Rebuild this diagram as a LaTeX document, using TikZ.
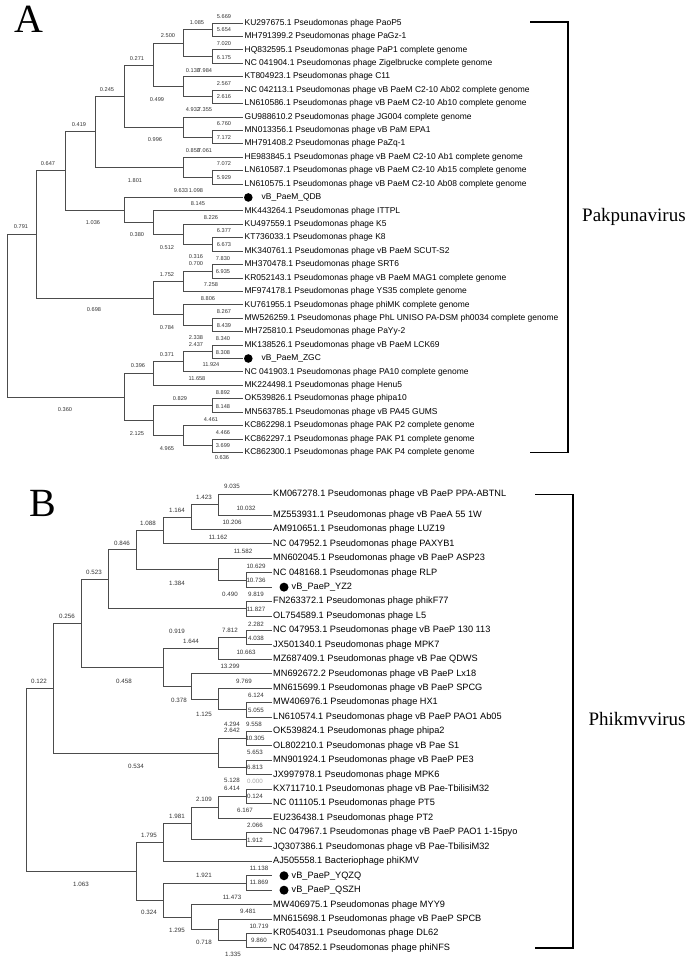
\documentclass[tikz,border=0pt]{standalone}
\usepackage{fontspec}
\setmainfont{Liberation Serif}
\newfontfamily\lsans{Liberation Sans}

\begin{document}
\begin{tikzpicture}[x=1pt, y=-1pt,
  branch/.style={line width=0.85pt, draw=black!70},
  leafa/.style={anchor=west, inner xsep=2pt, inner ysep=0pt, font=\lsans\fontsize{8.45}{9}\selectfont},
  leafb/.style={anchor=west, inner xsep=1.5pt, inner ysep=0pt, font=\lsans\fontsize{9.2}{10}\selectfont},
  bla/.style={inner sep=0pt, font=\lsans\fontsize{5.6}{6}\selectfont, text=black!80},
  blb/.style={inner sep=0pt, font=\lsans\fontsize{6.2}{7}\selectfont, text=black!80},
  dot/.style={circle, fill=black, inner sep=0pt, minimum size=8.6pt},
  bracket/.style={line width=1.3pt},
  clade/.style={anchor=base west, inner sep=0pt, font=\fontsize{19}{22}\selectfont},
  panel/.style={inner sep=0pt, font=\fontsize{40}{44}\selectfont}]
\useasboundingbox (0,0) rectangle (689,960);

% Panel A
\node[panel] (pa) at (29,19) {A};

% Leaves A
\foreach \t [count=\i] in {KU297675.1 Pseudomonas phage PaoP5,
  MH791399.2 Pseudomonas phage PaGz-1,
  HQ832595.1 Pseudomonas phage PaP1 complete genome,
  NC 041904.1 Pseudomonas phage Zigelbrucke complete genome,
  KT804923.1 Pseudomonas phage C11,
  NC 042113.1 Pseudomonas phage vB PaeM C2-10 Ab02 complete genome,
  LN610586.1 Pseudomonas phage vB PaeM C2-10 Ab10 complete genome,
  GU988610.2 Pseudomonas phage JG004 complete genome,
  MN013356.1 Pseudomonas phage vB PaM EPA1,
  MH791408.2 Pseudomonas phage PaZq-1,
  HE983845.1 Pseudomonas phage vB PaeM C2-10 Ab1 complete genome,
  LN610587.1 Pseudomonas phage vB PaeM C2-10 Ab15 complete genome,
  LN610575.1 Pseudomonas phage vB PaeM C2-10 Ab08 complete genome,
  \hspace{17pt}vB\_PaeM\_QDB,
  MK443264.1 Pseudomonas phage ITTPL,
  KU497559.1 Pseudomonas phage K5,
  KT736033.1 Pseudomonas phage K8,
  MK340761.1 Pseudomonas phage vB PaeM SCUT-S2,
  MH370478.1 Pseudomonas phage SRT6,
  KR052143.1 Pseudomonas phage vB PaeM MAG1 complete genome,
  MF974178.1 Pseudomonas phage YS35 complete genome,
  KU761955.1 Pseudomonas phage phiMK complete genome,
  MW526259.1 Pseudomonas phage PhL UNISO PA-DSM ph0034 complete genome,
  MH725810.1 Pseudomonas phage PaYy-2,
  MK138526.1 Pseudomonas phage vB PaeM LCK69,
  \hspace{17pt}vB\_PaeM\_ZGC,
  NC 041903.1 Pseudomonas phage PA10 complete genome,
  MK224498.1 Pseudomonas phage Henu5,
  OK539826.1 Pseudomonas phage phipa10,
  MN563785.1 Pseudomonas phage vB PA45 GUMS,
  KC862298.1 Pseudomonas phage PAK P2 complete genome,
  KC862297.1 Pseudomonas phage PAK P1 complete genome,
  KC862300.1 Pseudomonas phage PAK P4 complete genome}
  \node[leafa] (al\i) at (242.5,{23+13.42*(\i-1)}) {\t};
\node[dot] (dqdb) at (248.3,197.46) {};
\node[dot] (dzgc) at (248.3,358.5) {};

% Inner nodes A
\coordinate (ra) at (7,315.78);
\coordinate (a1to24) at (36,234.48);
\coordinate (a1to18) at (65,170.83);
\coordinate (a1to13) at (95,131.62);
\coordinate (a1to10) at (124,95.98);
\coordinate (a1to7) at (153,64.94);
\coordinate (a1to4) at (183,43.13);
\coordinate (a12) at (212,29.71);
\coordinate (a34) at (212,56.55);
\coordinate (a5to7) at (183,86.75);
\coordinate (a67) at (212,96.81);
\coordinate (a8to10) at (183,127.01);
\coordinate (a910) at (212,137.07);
\coordinate (a11to13) at (183,167.27);
\coordinate (a1213) at (212,177.33);
\coordinate (a14to18) at (124,210.04);
\coordinate (a15to18) at (153,222.62);
\coordinate (a16to18) at (183,234.37);
\coordinate (a1718) at (212,244.43);
\coordinate (a19to24) at (153,298.12);
\coordinate (a19to21) at (183,281.34);
\coordinate (a1920) at (212,271.27);
\coordinate (a22to24) at (183,314.89);
\coordinate (a2324) at (212,324.95);
\coordinate (a25to33) at (124,397.09);
\coordinate (a25to28) at (153,373.60);
\coordinate (a25to27) at (183,361.86);
\coordinate (a2526) at (212,351.79);
\coordinate (a29to33) at (153,420.57);
\coordinate (a2930) at (212,405.47);
\coordinate (a31to33) at (183,435.67);
\coordinate (a3233) at (212,445.73);

% Branches A
\foreach \p/\c in {ra/a1to24, ra/a25to33,
  a1to24/a1to18, a1to24/a19to24, a1to18/a1to13, a1to18/a14to18,
  a1to13/a1to10, a1to13/a11to13, a1to10/a1to7, a1to10/a8to10,
  a1to7/a1to4, a1to7/a5to7, a1to4/a12, a1to4/a34,
  a12/al1, a12/al2, a34/al3, a34/al4,
  a5to7/al5, a5to7/a67, a67/al6, a67/al7,
  a8to10/al8, a8to10/a910, a910/al9, a910/al10,
  a11to13/al11, a11to13/a1213, a1213/al12, a1213/al13,
  a14to18/al14, a14to18/a15to18, a15to18/al15, a15to18/a16to18,
  a16to18/al16, a16to18/a1718, a1718/al17, a1718/al18,
  a19to24/a19to21, a19to24/a22to24, a19to21/a1920, a19to21/al21,
  a1920/al19, a1920/al20, a22to24/al22, a22to24/a2324,
  a2324/al23, a2324/al24,
  a25to33/a25to28, a25to33/a29to33, a25to28/a25to27, a25to28/al28,
  a25to27/a2526, a25to27/al27, a2526/al25, a2526/al26,
  a29to33/a2930, a29to33/a31to33, a2930/al29, a2930/al30,
  a31to33/al31, a31to33/a3233, a3233/al32, a3233/al33}
  \draw[branch] (\p) |- (\c);

% Branch lengths A
\foreach \x/\y/\t [count=\i] in {224/16.7/5.669, 224/30/5.654, 197/22.7/1.085,
  168/36/2.500, 224/43.3/7.020, 224/57.3/6.175, 137/58.3/0.271,
  193/70.2/0.138, 205/70.2/7.984, 224/83.3/2.567, 224/96.7/2.616,
  107/89.3/0.245, 157/100/0.499, 193/110/4.932, 205/110/7.355,
  224/123.3/6.760, 224/137.3/7.172, 79/125/0.419, 155/139.3/0.996,
  193/150.7/0.858, 205/150.7/7.061, 224/164/7.072, 224/177.3/5.929,
  48/164/0.647, 135/180.7/1.801, 181/190.7/9.633, 196/190.7/1.098,
  198/204/8.145, 93/223/1.036, 211/217.3/8.226, 21/226.7/0.791,
  224/230.7/6.377, 137/235/0.380, 224/244.3/6.673, 167/247.3/0.512,
  196/256.7/0.316, 223/258.3/7.830, 196/264/0.700, 223/271.7/6.935,
  167/274.3/1.752, 211/285/7.258, 208/298.3/8.806, 94/310/0.698,
  224/311.7/8.267, 224/325.7/8.439, 167/327.3/0.784, 196/337.3/2.338,
  223/338.3/8.340, 196/345/2.437, 223/352.3/8.308, 167/355/0.371,
  211/365/11.924, 138/366/0.396, 197/379/11.658, 223/392.7/8.892,
  180/399/0.829, 223/406.7/8.148, 65/410/0.360, 211/419.3/4.461,
  223/432.7/4.466, 137/433.3/2.125, 223/446/3.699, 167/448.3/4.965,
  222/458/0.636}
  \node[bla] (la\i) at (\x,\y) {\t};

% Bracket A
\coordinate (ka1) at (530,22);
\coordinate (ka2) at (568,22);
\coordinate (ka3) at (568,452.4);
\coordinate (ka4) at (530,452.4);
\draw[bracket] (ka1) -- (ka2) -- (ka3) -- (ka4);
\node[clade] (pak) at (582,221.7) {Pakpunavirus};

% Panel B
\node[panel] (pb) at (42.5,503.5) {B};

% Leaves B
\node[leafb] (bl1) at (271.5,494.3) {KM067278.1 Pseudomonas phage vB PaeP PPA-ABTNL};
\foreach \t [count=\i from 2] in {MZ553931.1 Pseudomonas phage vB PaeA 55 1W,
  AM910651.1 Pseudomonas phage LUZ19,
  NC 047952.1 Pseudomonas phage PAXYB1,
  MN602045.1 Pseudomonas phage vB PaeP ASP23,
  NC 048168.1 Pseudomonas phage RLP,
  \hspace{18.5pt}vB\_PaeP\_YZ2,
  FN263372.1 Pseudomonas phage phikF77,
  OL754589.1 Pseudomonas phage L5,
  NC 047953.1 Pseudomonas phage vB PaeP 130 113,
  JX501340.1 Pseudomonas phage MPK7,
  MZ687409.1 Pseudomonas phage vB Pae QDWS,
  MN692672.2 Pseudomonas phage vB PaeP Lx18,
  MN615699.1 Pseudomonas phage vB PaeP SPCG,
  MW406976.1 Pseudomonas phage HX1,
  LN610574.1 Pseudomonas phage vB PaeP PAO1 Ab05,
  OK539824.1 Pseudomonas phage phipa2,
  OL802210.1 Pseudomonas phage vB Pae S1,
  MN901924.1 Pseudomonas phage vB PaeP PE3,
  JX997978.1 Pseudomonas phage MPK6,
  KX711710.1 Pseudomonas phage vB Pae-TbilisiM32,
  NC 011105.1 Pseudomonas phage PT5,
  EU236438.1 Pseudomonas phage PT2,
  NC 047967.1 Pseudomonas phage vB PaeP PAO1 1-15pyo,
  JQ307386.1 Pseudomonas phage vB Pae-TbilisiM32,
  AJ505558.1 Bacteriophage phiKMV,
  \hspace{18.5pt}vB\_PaeP\_YQZQ,
  \hspace{18.5pt}vB\_PaeP\_QSZH,
  MW406975.1 Pseudomonas phage MYY9,
  MN615698.1 Pseudomonas phage vB PaeP SPCB,
  KR054031.1 Pseudomonas phage DL62,
  NC 047852.1 Pseudomonas phage phiNFS}
  \node[leafb] (bl\i) at (271.5,{515+14.43*(\i-2)}) {\t};
\node[dot, minimum size=9pt] (dyz2) at (284,587.15) {};
\node[dot, minimum size=9pt] (dyqzq) at (284,875.75) {};
\node[dot, minimum size=9pt] (dqszh) at (284,890.18) {};

% Inner nodes B
\coordinate (rb) at (26,779.74);
\coordinate (b1to20) at (53,688.23);
\coordinate (b1to16) at (81,623.36);
\coordinate (b1to9) at (108,579.29);
\coordinate (b1to7) at (136,549.78);
\coordinate (b1to4) at (163,530.45);
\coordinate (b1to3) at (191,517.04);
\coordinate (b12) at (218,504.65);
\coordinate (b5to7) at (218,569.11);
\coordinate (b67) at (246,579.94);
\coordinate (b89) at (246,608.80);
\coordinate (b10to16) at (163,667.42);
\coordinate (b10to12) at (218,648.48);
\coordinate (b1011) at (246,637.66);
\coordinate (b13to16) at (191,686.36);
\coordinate (b14to16) at (218,698.98);
\coordinate (b1516) at (246,709.80);
\coordinate (b17to20) at (218,753.10);
\coordinate (b1718) at (246,738.67);
\coordinate (b1920) at (246,767.53);
\coordinate (b21to32) at (136,871.25);
\coordinate (b21to26) at (163,842.39);
\coordinate (b21to25) at (191,823.45);
\coordinate (b21to23) at (218,807.21);
\coordinate (b2122) at (246,796.39);
\coordinate (b2425) at (246,839.68);
\coordinate (b27to32) at (163,900.11);
\coordinate (b2728) at (246,882.97);
\coordinate (b29to32) at (191,917.24);
\coordinate (b30to32) at (218,929.87);
\coordinate (b3132) at (246,940.69);

% Branches B
\foreach \p/\c in {rb/b1to20, rb/b21to32,
  b1to20/b1to16, b1to20/b17to20, b1to16/b1to9, b1to16/b10to16,
  b1to9/b1to7, b1to9/b89, b1to7/b1to4, b1to7/b5to7,
  b1to4/b1to3, b1to4/bl4, b1to3/b12, b1to3/bl3, b12/bl1, b12/bl2,
  b5to7/bl5, b5to7/b67, b67/bl6, b67/bl7, b89/bl8, b89/bl9,
  b10to16/b10to12, b10to16/b13to16, b10to12/b1011, b10to12/bl12,
  b1011/bl10, b1011/bl11, b13to16/bl13, b13to16/b14to16,
  b14to16/bl14, b14to16/b1516, b1516/bl15, b1516/bl16,
  b17to20/b1718, b17to20/b1920, b1718/bl17, b1718/bl18,
  b1920/bl19, b1920/bl20,
  b21to32/b21to26, b21to32/b27to32, b21to26/b21to25, b21to26/bl26,
  b21to25/b21to23, b21to25/b2425, b21to23/b2122, b21to23/bl23,
  b2122/bl21, b2122/bl22, b2425/bl24, b2425/bl25,
  b27to32/b2728, b27to32/b29to32, b2728/bl27, b2728/bl28,
  b29to32/bl29, b29to32/b30to32, b30to32/bl30, b30to32/b3132,
  b3132/bl31, b3132/bl32}
  \draw[branch] (\p) |- (\c);

% Branch lengths B
\foreach \x/\y/\t [count=\i] in {232/486.7/9.035, 204/497.3/1.423,
  246/508.3/10.032, 177/510/1.164, 232/522.7/10.206, 148/523.3/1.088,
  218/537.3/11.162, 122/543.3/0.846, 243/551.7/11.582, 256/566/10.629,
  94/572.7/0.523, 256/580/10.736, 177/583.3/1.384, 230/594.3/0.490,
  256/594.3/9.819, 256/609.3/11.827, 67/616.7/0.256, 177/631.7/0.919,
  256/624/2.282, 230/630.7/7.812, 256/638.3/4.038, 191/641.7/1.644,
  246/652.7/10.663, 230/666.7/13.299, 39/681/0.122, 124/681/0.458,
  244/681/9.769, 256/695/6.124, 179/700/0.378, 256/710/5.055,
  204/714/1.125, 232/724/4.294, 254/724/9.558, 232/730.7/2.642,
  255/738.3/10.305, 255/752.7/5.653, 136/766/0.534, 255/767.3/6.813,
  232/780.7/5.128, 232/788.3/6.414, 255/796/0.124, 204/799.3/2.109,
  245/810.7/6.167, 177/816/1.981, 255/825/2.066, 149/835/1.795,
  255/840/1.912, 259/868.3/11.138, 204/875/1.921, 259/882.7/11.869,
  81/884/1.063, 232/897.3/11.473, 248/911.7/9.481, 149/912.7/0.324,
  259/926/10.719, 177/930.7/1.295, 259/940/9.860, 204/942.7/0.718,
  233/954/1.335}
  \node[blb] (lb\i) at (\x,\y) {\t};
\node[blb, text=black!35] (lbzero) at (255,781.7) {0.000};

% Bracket B
\coordinate (kb1) at (535,494.3);
\coordinate (kb2) at (573,494.3);
\coordinate (kb3) at (573,947.9);
\coordinate (kb4) at (535,947.9);
\draw[bracket] (kb1) -- (kb2) -- (kb3) -- (kb4);
\node[clade] (phk) at (588.3,725) {Phikmvvirus};
\end{tikzpicture}
\end{document}
